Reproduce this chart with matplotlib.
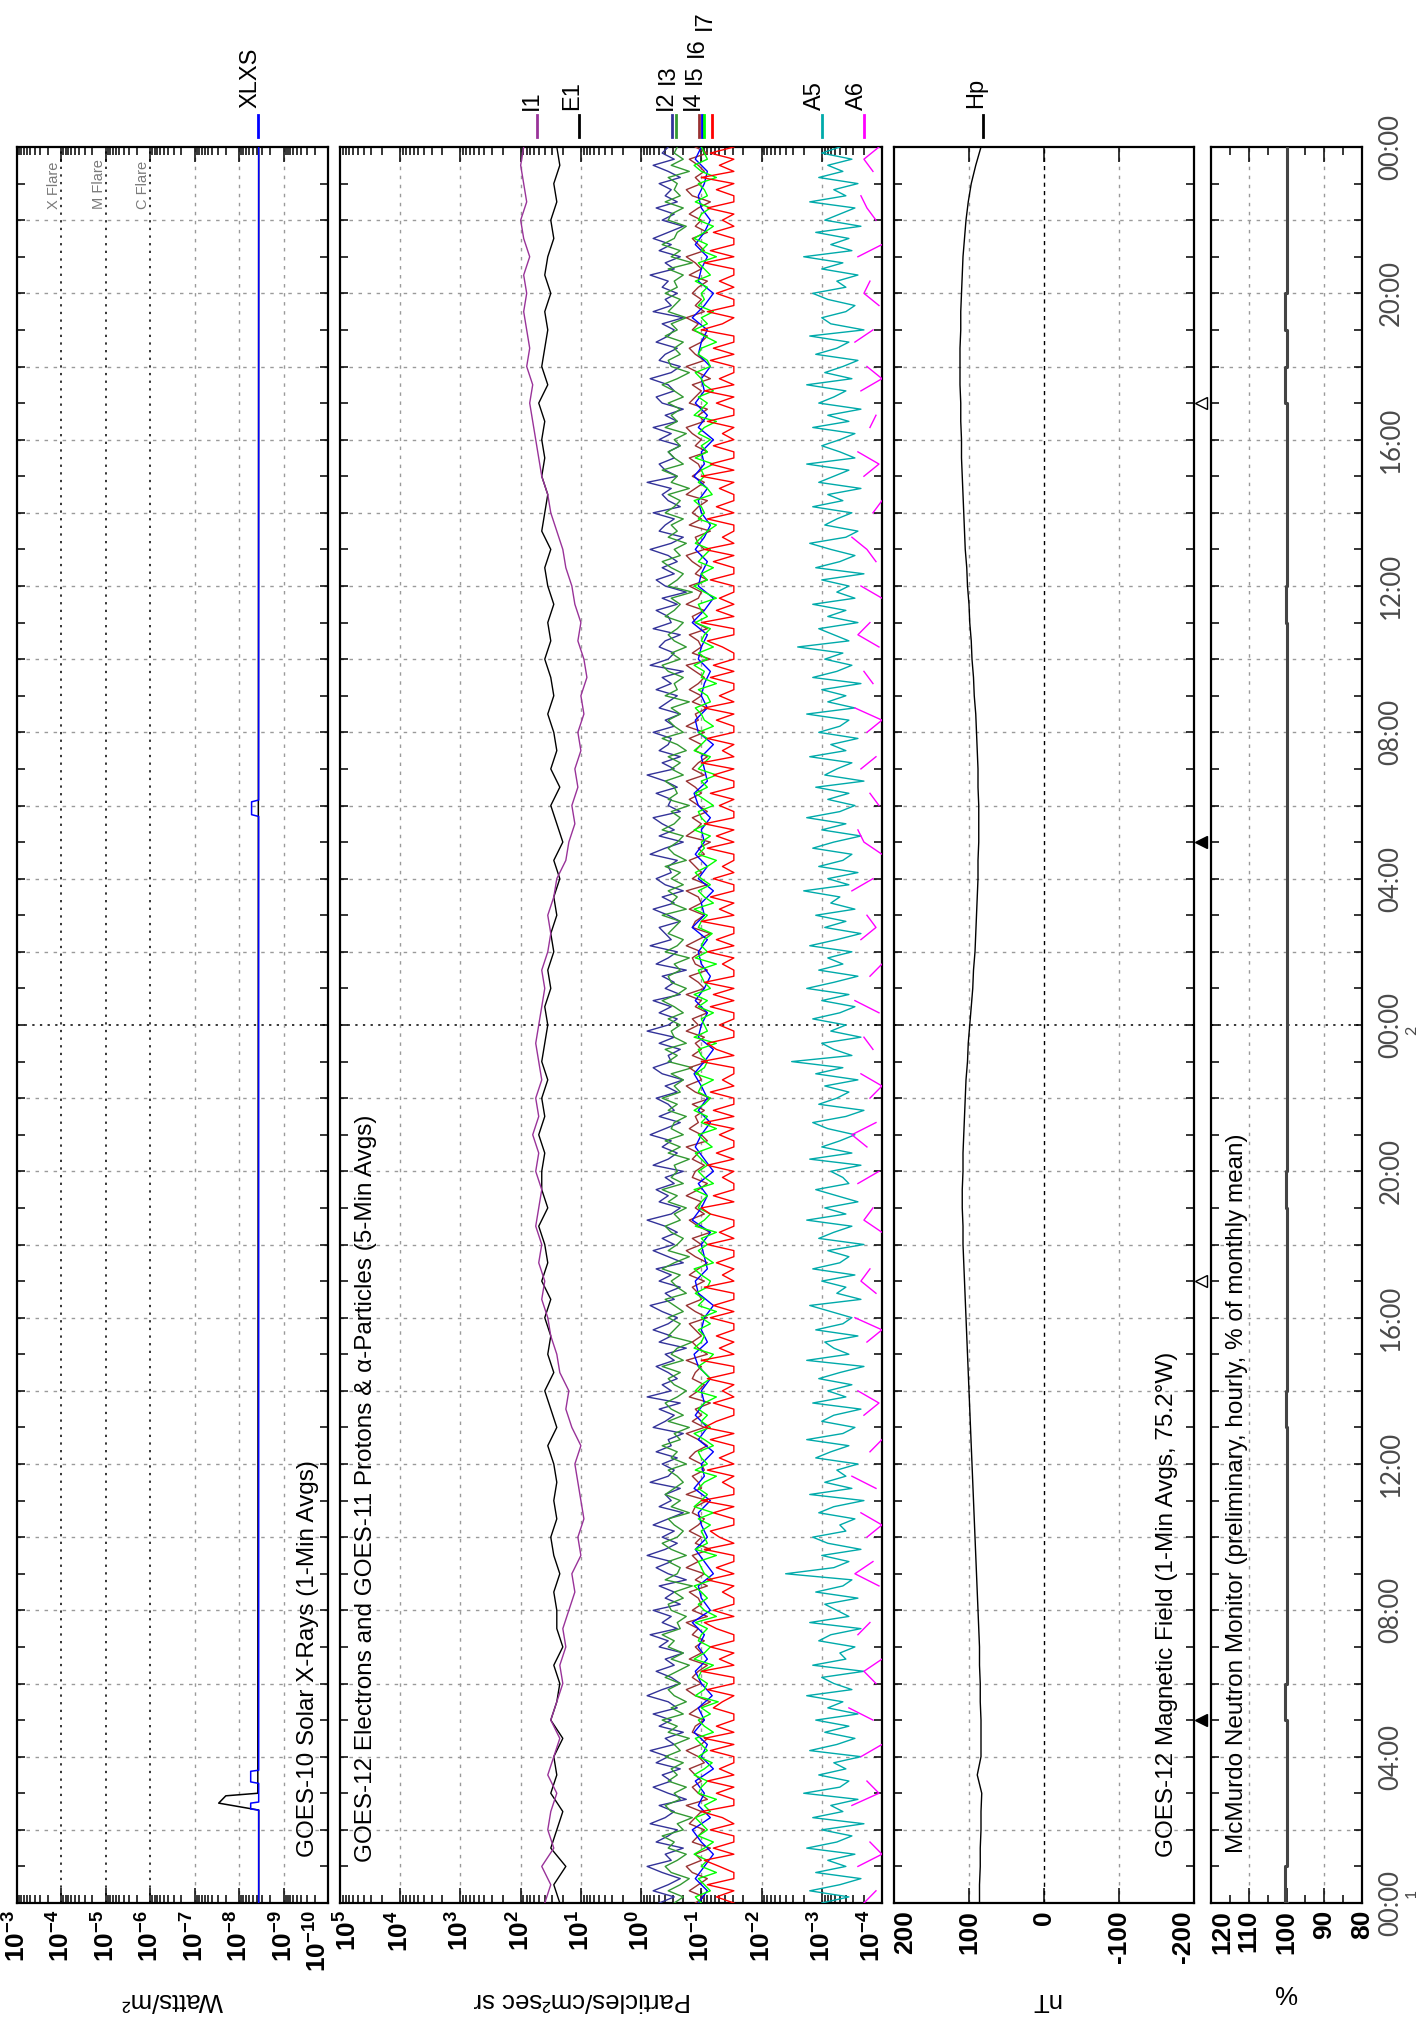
import numpy as np
import matplotlib
matplotlib.use("Agg")
import matplotlib.pyplot as plt
from matplotlib.lines import Line2D
from matplotlib.ticker import FixedLocator, NullFormatter
from matplotlib.transforms import blended_transform_factory

W, H = 1416, 2028
TOP, BOT = 147, 1903

plt.rcParams["font.family"] = ["Liberation Sans", "DejaVu Sans"]
plt.rcParams["mathtext.fontset"] = "custom"
plt.rcParams["mathtext.rm"] = "Liberation Sans:bold"
plt.rcParams["mathtext.it"] = "Liberation Sans:bold"
plt.rcParams["mathtext.bf"] = "Liberation Sans:bold"

# ---- data: log10(flux) x100 for the particle channels, time in hours 0..48 ----
xl_t = [0, 2.54, 2.73, 2.93, 3.0, 48]
xl_v = [-8.44, -8.44, -7.54, -7.70, -8.42, -8.44]
xs_t = [0, 2.54, 2.57, 2.73, 2.76, 3.27, 3.31, 3.60, 3.63, 29.70, 29.75, 30.10, 30.15, 48]
xs_v = [-8.44, -8.44, -8.26, -8.26, -8.44, -8.44, -8.26, -8.26, -8.44, -8.44, -8.28, -8.28, -8.44, -8.44]

e1 = """135 145 125 150 140 130 150 140 145 130 150 140 135 145 130 140
140 145 135 145 150 140 145 140 145 155 140 150 160 145 155 150
160 150 165 155 160 170 155 165 165 160 170 160 165 155 165 160
155 160 150 155 145 150 140 145 135 145 130 140 150 135 150 140
145 155 145 150 160 150 155 145 155 160 150 165 160 155 165 160
165 160 170 155 165 160 155 160 150 160 155 145 150 140 145 135 140"""
i1 = """160 150 165 145 155 150 140 155 145 135 150 140 130 135 125 130
120 110 115 100 105 95 100 105 110 100 115 125 120 135 140 150
155 165 160 170 165 175 170 165 175 170 180 170 175 165 170 175
170 165 160 165 155 150 155 145 140 125 120 110 115 105 110 100
105 95 100 90 95 105 100 110 115 125 130 140 150 155 165 170
175 180 185 180 190 185 190 195 190 195 185 195 200 190 195 200 195"""
i2 = """-30 -55 -20 -45 -65 -35 -10 -50 -40 -70 -25 -45 -60 -15 -40 -55 -30 -75 -45 -20 -50 -35 -65 -25
-45 -15 -55 -40 -70 -30 -50 -20 -60 -45 -10 -35 -65 -50 -25 -55 -40 -70 -30 -45 -15 -60 -35 -50
-20 -65 -40 -55 -30 -75 -45 -25 -50 -10 -40 -60 -35 -55 -20 -45 -70 -30 -50 -40 -65 -15 -45 -55
-35 -60 -25 -50 -45 -70 -20 -40 -55 -30 -65 -10 -50 -35 -60 -45 -25 -55 -40 -75 -30 -50 -20 -45
-60 -35 -15 -55 -40 -65 -30 -50 -25 -70 -45 -20 -55 -35 -60 -40 -10 -50 -65 -30 -45 -25 -55 -40
-70 -20 -45 -60 -35 -50 -15 -40 -65 -30 -55 -45 -25 -60 -40 -70 -35 -20 -50 -45 -65 -30 -55 -10
-45 -60 -30 -50 -20 -65 -40 -55 -35 -75 -25 -45 -60 -15 -50 -40 -30 -65 -45 -20 -55 -35 -70 -40
-25 -50 -45 -60 -15 -40 -70 -30 -55 -35 -20 -65 -45 -50 -25 -60 -40 -10 -55 -35 -65 -30 -45 -50
-20 -55 -40 -65 -30 -45 -60 -25 -50 -35 -70 -15 -45 -55 -30 -40 -65 -20 -50 -45 -25 -60 -35 -75
-40 -25 -55 -35 -60 -45 -15 -50 -70 -30 -40 -55 -20 -65 -45 -35 -50 -10 -60 -40 -30 -55 -45 -65
-30 -50 -20 -60 -40 -70 -35 -25 -55 -45 -15 -50 -65 -30 -40 -60 -25 -45 -55 -35 -70 -20 -50 -40
-60 -35 -45 -15 -55 -40 -65 -30 -50 -20 -45 -70 -35 -55 -25 -60 -40 -50 -30 -65 -45 -20 -55 -35
-45"""
i3 = """-55 -70 -45 -65 -80 -50 -40 -60 -75 -45 -55 -35 -70 -60 -85 -50 -40 -65 -55 -75 -45 -60 -50 -70
-40 -65 -55 -80 -45 -60 -35 -70 -50 -75 -55 -45 -65 -40 -60 -80 -50 -70 -45 -55 -35 -65 -60 -75
-50 -45 -70 -55 -85 -40 -60 -65 -45 -75 -50 -35 -60 -70 -55 -45 -80 -50 -65 -40 -55 -70 -60 -45
-75 -50 -60 -35 -65 -55 -80 -45 -70 -50 -40 -60 -75 -55 -45 -65 -35 -70 -50 -60 -85 -45 -55 -65
-45 -70 -55 -40 -75 -60 -50 -65 -35 -55 -80 -45 -60 -70 -50 -40 -65 -55 -75 -45 -60 -35 -70 -50
-60 -55 -80 -45 -65 -40 -70 -50 -55 -75 -45 -60 -35 -65 -55 -70 -50 -85 -45 -60 -40 -75 -55 -50
-65 -45 -70 -55 -35 -60 -75 -50 -45 -65 -55 -80 -40 -60 -70 -45 -55 -65 -35 -75 -50 -60 -45 -70
-50 -65 -40 -75 -55 -45 -60 -70 -35 -55 -65 -50 -80 -45 -60 -55 -40 -70 -50 -65 -45 -75 -60 -35
-70 -55 -45 -65 -50 -80 -40 -60 -55 -70 -45 -35 -65 -50 -75 -55 -45 -60 -70 -40 -55 -65 -50 -85
-45 -60 -70 -50 -35 -65 -55 -75 -45 -60 -50 -70 -40 -55 -65 -45 -80 -50 -60 -35 -70 -55 -45 -65
-55 -75 -40 -60 -50 -65 -45 -70 -55 -35 -60 -80 -50 -45 -65 -55 -70 -40 -60 -50 -75 -45 -55 -65
-40 -60 -55 -70 -45 -85 -50 -65 -35 -55 -60 -75 -45 -50 -70 -40 -65 -55 -60 -45 -80 -50 -70 -55
-60"""
i4 = """-90 -105 -80 -95 -110 -85 -75 -100 -90 -115 -85 -95 -105 -80 -90 -100 -75 -110 -95 -85 -100 -90 -80 -105
-95 -75 -100 -110 -85 -90 -105 -80 -95 -115 -90 -75 -100 -85 -95 -110 -80 -100 -90 -105 -85 -95 -75 -110
-85 -100 -95 -80 -110 -90 -105 -75 -95 -85 -115 -90 -100 -80 -95 -105 -85 -90 -110 -75 -100 -95 -85 -105
-100 -80 -90 -110 -95 -75 -105 -85 -100 -90 -115 -80 -95 -105 -85 -90 -100 -75 -110 -95 -85 -100 -90 -80
-110 -90 -75 -100 -95 -85 -105 -80 -95 -110 -90 -75 -100 -85 -115 -95 -80 -105 -90 -100 -75 -95 -110 -85
-90 -105 -85 -95 -75 -110 -100 -80 -95 -90 -105 -85 -115 -90 -75 -100 -95 -80 -110 -85 -100 -90 -105 -75
-95 -85 -110 -90 -100 -75 -105 -95 -80 -110 -90 -85 -100 -75 -95 -115 -85 -90 -105 -80 -100 -95 -75 -110
-85 -100 -90 -80 -105 -95 -115 -75 -90 -100 -85 -110 -95 -80 -100 -90 -75 -105 -85 -95 -110 -90 -100 -80
-105 -75 -95 -90 -110 -85 -100 -80 -95 -105 -90 -75 -115 -85 -100 -95 -80 -110 -90 -85 -105 -75 -95 -100
-80 -110 -90 -100 -85 -75 -105 -95 -90 -115 -80 -100 -85 -95 -110 -75 -90 -105 -85 -100 -95 -80 -110 -90
-100 -85 -75 -105 -95 -110 -80 -90 -100 -85 -115 -95 -75 -105 -90 -80 -100 -110 -85 -95 -75 -105 -90 -100
-85 -95 -110 -80 -100 -90 -75 -105 -95 -85 -110 -90 -100 -80 -95 -115 -85 -75 -100 -90 -105 -95 -80 -110
-90"""
i5 = """-95 -110 -90 -105 -120 -100 -85 -115 -95 -105 -90 -120 -100 -110 -88 -105 -95 -118 -100 -90
-110 -95 -105 -85 -115 -100 -95 -120 -105 -90 -110 -100 -95 -115 -88 -105 -100 -120 -95 -110
-90 -105 -100 -115 -95 -88 -110 -100 -105 -120 -95 -90 -110 -105 -100 -115 -85 -100 -110 -95
-120 -105 -90 -100 -115 -95 -110 -100 -88 -105 -120 -95 -100 -110 -90 -105 -115 -100 -95 -110
-85 -105 -100 -120 -95 -110 -90 -105 -100 -115 -95 -88 -110 -105 -100 -120 -95 -90 -110 -100
-105 -115 -95 -100 -110 -85 -105 -120 -95 -100 -110 -90 -105 -115 -100 -95 -110 -88 -105 -100
-120 -95 -110 -90 -105 -100 -115 -95 -100 -110 -85 -105 -120 -95 -100 -110 -90 -105 -115 -100
-95 -105 -110 -90 -100"""
i6 = """-100 -90 -115 -105 -95 -125 -100 -110 -88 -105 -120 -95 -110 -100 -90 -115 -105 -125 -95 -100 -110 -88 -105 -118
-95 -110 -100 -90 -120 -105 -95 -115 -100 -128 -90 -105 -110 -95 -100 -120 -88 -105 -115 -95 -100 -110 -90 -125
-105 -95 -110 -100 -88 -118 -105 -100 -95 -125 -90 -110 -105 -100 -115 -95 -120 -88 -100 -110 -95 -105 -125 -90
-110 -100 -95 -120 -105 -88 -115 -100 -110 -95 -105 -125 -90 -100 -115 -105 -95 -110 -120 -88 -100 -105 -95 -115
-100 -125 -95 -105 -90 -110 -115 -100 -88 -120 -105 -95 -110 -100 -125 -90 -105 -115 -95 -100 -110 -88 -120 -105
-95 -110 -100 -90 -118 -105 -95 -125 -100 -110 -88 -105 -115 -95 -100 -120 -90 -105 -110 -100 -95 -125 -88 -110
-105 -100 -120 -95 -110 -88 -115 -105 -100 -95 -125 -90 -110 -100 -105 -118 -95 -100 -110 -88 -120 -105 -95 -115
-100 -90 -110 -125 -95 -105 -100 -115 -88 -110 -100 -95 -120 -105 -90 -110 -100 -125 -95 -105 -115 -88 -100 -110
-95 -120 -105 -100 -90 -115 -110 -95 -125 -100 -105 -88 -110 -95 -120 -100 -105 -115 -90 -110 -100 -95 -125 -105
-88 -110 -100 -120 -95 -105 -115 -90 -100 -110 -125 -95 -105 -100 -88 -118 -110 -95 -105 -100 -120 -90 -110 -100
-115 -95 -105 -125 -88 -100 -110 -95 -120 -105 -100 -90 -115 -110 -95 -100 -125 -105 -88 -110 -100 -120 -95 -105
-100 -110 -90 -115 -105 -95 -125 -100 -110 -88 -105 -120 -95 -100 -115 -90 -110 -105 -95 -125 -100 -88 -110 -105
-100"""
i7 = """-154 -125 -154 -110 -154 -154 -130 -105 -154 -120 -154 -154 -115 -154 -135 -100 -154 -154 -125 -154 -110 -154 -130 -154
-154 -115 -154 -105 -154 -125 -154 -154 -120 -135 -154 -110 -154 -154 -100 -154 -130 -154 -115 -154 -154 -125 -105 -154
-120 -154 -154 -135 -154 -110 -154 -125 -154 -154 -105 -154 -130 -115 -154 -154 -120 -154 -100 -154 -154 -135 -154 -110
-154 -130 -154 -154 -115 -154 -105 -125 -154 -154 -120 -154 -135 -154 -110 -154 -154 -100 -154 -130 -154 -125 -154 -154
-115 -154 -120 -154 -154 -105 -154 -135 -154 -125 -154 -154 -110 -154 -130 -154 -154 -115 -100 -154 -120 -154 -154 -135
-154 -110 -154 -125 -154 -154 -130 -154 -105 -154 -120 -154 -154 -115 -154 -135 -154 -154 -100 -154 -125 -110 -154 -154
-130 -154 -154 -115 -154 -120 -154 -105 -154 -154 -135 -154 -110 -154 -125 -154 -154 -100 -154 -130 -154 -115 -154 -154
-120 -154 -135 -154 -154 -110 -154 -125 -154 -105 -154 -154 -130 -154 -115 -154 -154 -120 -154 -100 -154 -135 -154 -110
-154 -154 -125 -154 -105 -154 -130 -154 -154 -115 -154 -120 -154 -154 -135 -110 -154 -154 -100 -154 -125 -154 -130 -154
-154 -115 -154 -154 -120 -154 -105 -154 -135 -154 -154 -110 -154 -125 -154 -154 -130 -154 -100 -154 -115 -154 -154 -120
-154 -135 -154 -110 -154 -154 -125 -154 -105 -154 -130 -154 -154 -115 -154 -120 -154 -154 -100 -135 -154 -110 -154 -154
-125 -154 -130 -154 -154 -105 -154 -115 -154 -154 -120 -154 -135 -154 -110 -154 -154 -125 -154 -100 -154 -130 -154 -115
-154"""
a5 = """-300 -345 -280 -330 -365 -290 -340 -310 -355 -275 -325 -350 -300 -370 -285 -335 -315 -360 -270 -330 -345 -295 -340 -320
-365 -280 -325 -355 -305 -345 -290 -360 -310 -335 -275 -350 -320 -300 -370 -285 -340 -330 -355 -295 -315 -365 -280 -345
-325 -305 -360 -290 -335 -350 -240 -320 -345 -300 -365 -310 -285 -340 -330 -355 -295 -320 -370 -280 -350 -305 -340 -325
-360 -290 -315 -345 -275 -335 -355 -300 -320 -365 -285 -340 -310 -350 -295 -330 -370 -275 -345 -320 -305 -360 -290 -335
-350 -315 -280 -365 -325 -340 -300 -355 -285 -330 -345 -310 -370 -295 -320 -350 -275 -340 -305 -360 -325 -290 -345 -335
-315 -365 -280 -350 -300 -330 -355 -310 -285 -340 -370 -295 -325 -345 -305 -360 -290 -335 -250 -350 -320 -300 -365 -315
-340 -285 -330 -355 -300 -345 -275 -320 -360 -295 -335 -310 -350 -280 -325 -365 -305 -340 -290 -355 -315 -330 -270 -345
-310 -360 -295 -335 -350 -285 -320 -365 -300 -340 -275 -330 -355 -310 -345 -290 -370 -305 -325 -350 -280 -340 -315 -360
-295 -330 -345 -275 -355 -310 -340 -300 -365 -285 -325 -350 -305 -335 -260 -345 -320 -295 -360 -310 -340 -285 -355 -325
-345 -300 -370 -290 -330 -355 -315 -280 -340 -360 -305 -325 -350 -285 -335 -310 -365 -295 -320 -345 -275 -355 -330 -300
-330 -355 -285 -345 -310 -365 -295 -320 -340 -275 -350 -305 -335 -360 -290 -325 -345 -280 -370 -315 -300 -340 -355 -310
-285 -340 -325 -360 -300 -335 -270 -350 -315 -345 -290 -365 -305 -330 -355 -280 -340 -320 -360 -295 -335 -310 -350 -300
-330"""
a6 = """-370 -390 nan -360 -400 -380 nan nan -350 -395 -375 nan -365 -400 nan -385 -345 nan -390 -370
-400 nan -360 -380 nan nan -395 -355 -385 nan -375 -400 -365 nan -390 -350 nan -380 -400 nan
-370 -395 -360 nan -385 nan -375 -400 -355 nan -390 -365 -380 nan nan -400 -370 -385 nan -360
-395 nan -375 -350 -390 nan -380 -400 -365 nan -385 -370 nan -395 -355 nan -380 -400 nan -365
-390 -375 nan -350 -385 nan -400 -370 -360 nan -395 -380 nan -365 -390 nan -375 -400 -355 nan
-385 -370 nan -395 -360 -380 nan -400 -365 nan -390 -375 -350 nan -385 -400 nan -370 -395 -360
nan -380 -390 nan -365 -400 -375 nan -355 -385 nan -395 -370 -380 nan -360 -400 nan -390 -375
-365 nan -385 -370 -395"""

hp = [86, 86, 85, 85, 84, 84, 83, 89, 84, 84, 84, 85, 85, 86, 86, 87, 88, 89, 90, 91,
      92, 93, 94, 95, 96, 97, 98, 99, 100, 101, 102, 103, 104, 105, 106, 107, 108, 108, 109, 109,
      108, 108, 107, 106, 105, 104, 102, 101, 99, 97, 95, 94, 92, 91, 90, 89, 88, 88, 87, 87,
      87, 88, 88, 89, 90, 91, 93, 94, 96, 97, 99, 100, 102, 103, 105, 106, 107, 108, 109, 110,
      110, 111, 111, 112, 112, 112, 111, 111, 110, 109, 108, 106, 104, 101, 97, 91, 84]

neutron = [100.0, 100.3, 100.0, 100.0, 100.0, 100.0, 100.3, 100.0, 100.0, 100.0, 99.9, 100.0,
           100.0, 100.0, 100.1, 100.0, 100.0, 100.0, 100.0, 100.0, 100.2, 100.0, 100.0, 100.0,
           100.0, 100.0, 100.0, 100.0, 100.0, 100.0, 100.0, 100.0, 100.0, 100.0, 100.0, 100.0,
           100.2, 100.0, 100.0, 100.0, 100.0, 100.0, 100.3, 100.0, 100.3, 100.0, 100.0, 100.0]

noon_hours = [17, 41]
midnight_hours = [5, 29]
time_labels = ["00:00", "04:00", "08:00", "12:00", "16:00", "20:00",
               "00:00", "04:00", "08:00", "12:00", "16:00", "20:00", "00:00"]


def flux(s):
    return 10.0 ** (np.array(s.split(), dtype=float) / 100.0)


def px(x, y):
    return x / W, 1 - y / H


fig = plt.figure(figsize=(W / 100, H / 100), dpi=100)
fig.patch.set_facecolor("white")


def panel(x0, x1):
    return fig.add_axes([x0 / W, 1 - BOT / H, (x1 - x0) / W, (BOT - TOP) / H])


GRID = "#9a9a9a"
TICKSIZE = 19


def style(ax):
    ax.set_ylim(0, 48)
    ax.yaxis.set_major_locator(FixedLocator(np.arange(0, 49, 4)))
    ax.yaxis.set_minor_locator(FixedLocator(np.arange(0, 49, 1)))
    ax.tick_params(axis="y", which="both", direction="in", left=True, right=True,
                   length=6, width=1.1, labelleft=False, labelright=False)
    ax.tick_params(axis="x", which="both", direction="in", top=True, bottom=True, width=1.1)
    ax.tick_params(axis="x", which="major", length=11, labelsize=TICKSIZE, pad=5)
    ax.tick_params(axis="x", which="minor", length=5.5)
    for sp in ax.spines.values():
        sp.set_linewidth(1.6)
    for h in range(2, 48, 2):
        if h == 24:
            ax.axhline(h, color="black", lw=1.1, dashes=(1.5, 3.5), zorder=1)
        else:
            ax.axhline(h, color=GRID, lw=1.0, dashes=(2.5, 4), zorder=1)


def vgrid(ax, vals, color=GRID, dashes=(2.5, 4), lw=1.0):
    for v in vals:
        ax.axvline(v, color=color, lw=lw, dashes=dashes, zorder=1)


def xlabels(ax, labels, nudged):
    # tick labels rotated; labels at shared panel edges are drawn by hand, nudged apart
    shown = ["" if i in nudged else s for i, s in enumerate(labels)]
    ax.set_xticklabels(shown)
    for lab in ax.get_xticklabels():
        lab.set_rotation(90)
        lab.set_ha("center")
        lab.set_va("top")
        lab.set_fontweight("bold")
    for i, xc in nudged.items():
        fig.text(*px(xc, BOT + 7), labels[i], rotation=90, ha="center", va="top",
                 fontsize=TICKSIZE, fontweight="bold")


# ---- X-ray panel ----
ax1 = panel(17, 328)
style(ax1)
ax1.set_xscale("log")
ax1.set_xlim(1e-3, 1e-10)
ax1.xaxis.set_major_locator(FixedLocator([10.0 ** k for k in range(-3, -11, -1)]))
ax1.xaxis.set_minor_locator(FixedLocator([m * 10.0 ** k for k in range(-10, -3) for m in range(2, 10)]))
ax1.xaxis.set_minor_formatter(NullFormatter())
xlabels(ax1, [r"$\mathregular{10^{%d}}$" % k for k in range(-3, -11, -1)], {7: 318})
vgrid(ax1, [1e-7, 1e-8, 1e-9])
vgrid(ax1, [1e-4, 1e-5, 1e-6], color="black", dashes=(1.5, 3.5), lw=1.1)
ax1.plot(10.0 ** np.array(xl_v), xl_t, color="black", lw=1.1, zorder=3)
ax1.plot(10.0 ** np.array(xs_v), xs_t, color="#0000ff", lw=1.1, zorder=4)
for name, xc in [("X Flare", 54), ("M Flare", 99), ("C Flare", 143)]:
    fig.text(*px(xc, 209), name, rotation=90, ha="center", va="bottom",
             fontsize=10.5, color="#7a7a7a")

# ---- particle panel ----
ax2 = panel(340, 882)
style(ax2)
ax2.set_xscale("log")
ax2.set_xlim(1e5, 1e-4)
ax2.xaxis.set_major_locator(FixedLocator([10.0 ** k for k in range(5, -5, -1)]))
ax2.xaxis.set_minor_locator(FixedLocator([m * 10.0 ** k for k in range(-4, 5) for m in range(2, 10)]))
ax2.xaxis.set_minor_formatter(NullFormatter())
xlabels(ax2, [r"$\mathregular{10^{%d}}$" % k for k in range(5, -5, -1)], {0: 348, 9: 872})
vgrid(ax2, [10.0 ** k for k in range(4, -4, -1)])

chans = [
    (e1, "black"), (i1, "#993399"), (i2, "#333399"), (i3, "#339933"), (i4, "#993333"),
    (i5, "#0000ff"), (i6, "#00ff00"), (i7, "#ff0000"), (a5, "#00aaaa"), (a6, "#ff00ff"),
]
for s, c in chans:
    v = flux(s)
    t = np.linspace(0, 48, len(v))
    ax2.plot(v, t, color=c, lw=1.0, zorder=3)

# ---- magnetometer panel ----
ax3 = panel(894, 1194)
style(ax3)
ax3.set_xlim(200, -200)
ax3.set_xticks([200, 100, 0, -100, -200])
xlabels(ax3, ["200", "100", "0", "-100", "-200"], {0: 905, 4: 1183})
vgrid(ax3, [100, -100])
vgrid(ax3, [0], color="black", dashes=(3, 3), lw=1.0)
ax3.plot(hp, np.linspace(0, 48, len(hp)), color="black", lw=1.0, zorder=3)
tr = blended_transform_factory(ax3.transAxes, ax3.transData)
mx = (1201 - 894) / (1194 - 894)
ax3.plot([mx] * len(noon_hours), noon_hours, ls="none", marker="<", ms=8,
         mfc="white", mec="black", mew=1.0, transform=tr, clip_on=False)
ax3.plot([mx] * len(midnight_hours), midnight_hours, ls="none", marker="<", ms=8,
         mfc="black", mec="black", transform=tr, clip_on=False)

# ---- neutron monitor panel ----
ax4 = panel(1211, 1362)
style(ax4)
ax4.set_xlim(120, 80)
ax4.set_xticks([120, 110, 100, 90, 80])
ax4.set_xticks([115, 105, 95, 85], minor=True)
xlabels(ax4, ["120", "110", "100", "90", "80"], {0: 1222})
vgrid(ax4, [110, 90])
ax4.step(neutron + [neutron[-1]], np.arange(0, 49), where="post", color="#444444", lw=2.2, zorder=3)
ax4.set_yticks(np.arange(0, 49, 4))
ax4.set_yticklabels(time_labels)
ax4.tick_params(axis="y", which="major", labelright=True, pad=12)
for lab in ax4.get_yticklabels():
    lab.set_rotation(90)
    lab.set_va("center")
    lab.set_fontfamily(["Lato", "DejaVu Sans"])
    lab.set_fontweight("normal")
    lab.set_fontsize(18.5)
    lab.set_color("#4a4a4a")
# day-of-month marks beside the midnight labels
for txt, yy in [("1", 1893), ("2", 1030)]:
    fig.text(*px(1405, yy), txt, rotation=90, ha="left", va="center",
             fontsize=11.5, color="#4a4a4a", family=["Lato", "DejaVu Sans"])

# ---- panel titles ----
titles = [
    ("GOES-10 Solar X-Rays (1-Min Avgs)", 308, 1857),
    ("GOES-12 Electrons and GOES-11 Protons & \u03b1-Particles (5-Min Avgs)", 366, 1862),
    ("GOES-12 Magnetic Field (1-Min Avgs, 75.2\u00b0W)", 1167, 1857),
    ("McMurdo Neutron Monitor (preliminary, hourly, % of monthly mean)", 1237, 1853),
]
for txt, xc, yb in titles:
    fig.text(*px(xc, yb), txt, rotation=90, ha="center", va="bottom", fontsize=17.5)

# ---- axis units, upside down as in the reference ----
for txt, xc, yc in [("Watts/m\u00b2", 172, 2000), ("Particles/cm\u00b2sec sr", 582, 2000),
                    ("nT", 1045, 2000), ("%", 1286, 1992)]:
    fig.text(*px(xc, yc), txt, rotation=180, ha="center", va="center", fontsize=18.5)

# ---- channel keys above the panels ----
keys = [
    ("XLXS", 250, 108, 258, "#0000ff"),
    ("I1", 532, 110, 537, "#993399"),
    ("E1", 572, 110, 579, "black"),
    ("I2", 666, 110, 672, "#333399"),
    ("I3", 668, 84, 676, "#339933"),
    ("I4", 693, 110, 699, "#993333"),
    ("I5", 695, 84, 702, "#0000ff"),
    ("I6", 697, 57, 704, "#00ff00"),
    ("I7", 705, 30, 712, "#ff0000"),
    ("A5", 815, 110, 822, "#00aaaa"),
    ("A6", 857, 110, 864, "#ff00ff"),
    ("Hp", 976, 108, 983, "black"),
]
for txt, xt, yb, xl, c in keys:
    fig.text(*px(xt, yb), txt, rotation=90, ha="center", va="bottom", fontsize=17)
    fig.add_artist(Line2D([xl / W, xl / W], [1 - 115 / H, 1 - 137 / H], color=c, lw=2.0))

fig.savefig("out.png", dpi=100, facecolor="white")
